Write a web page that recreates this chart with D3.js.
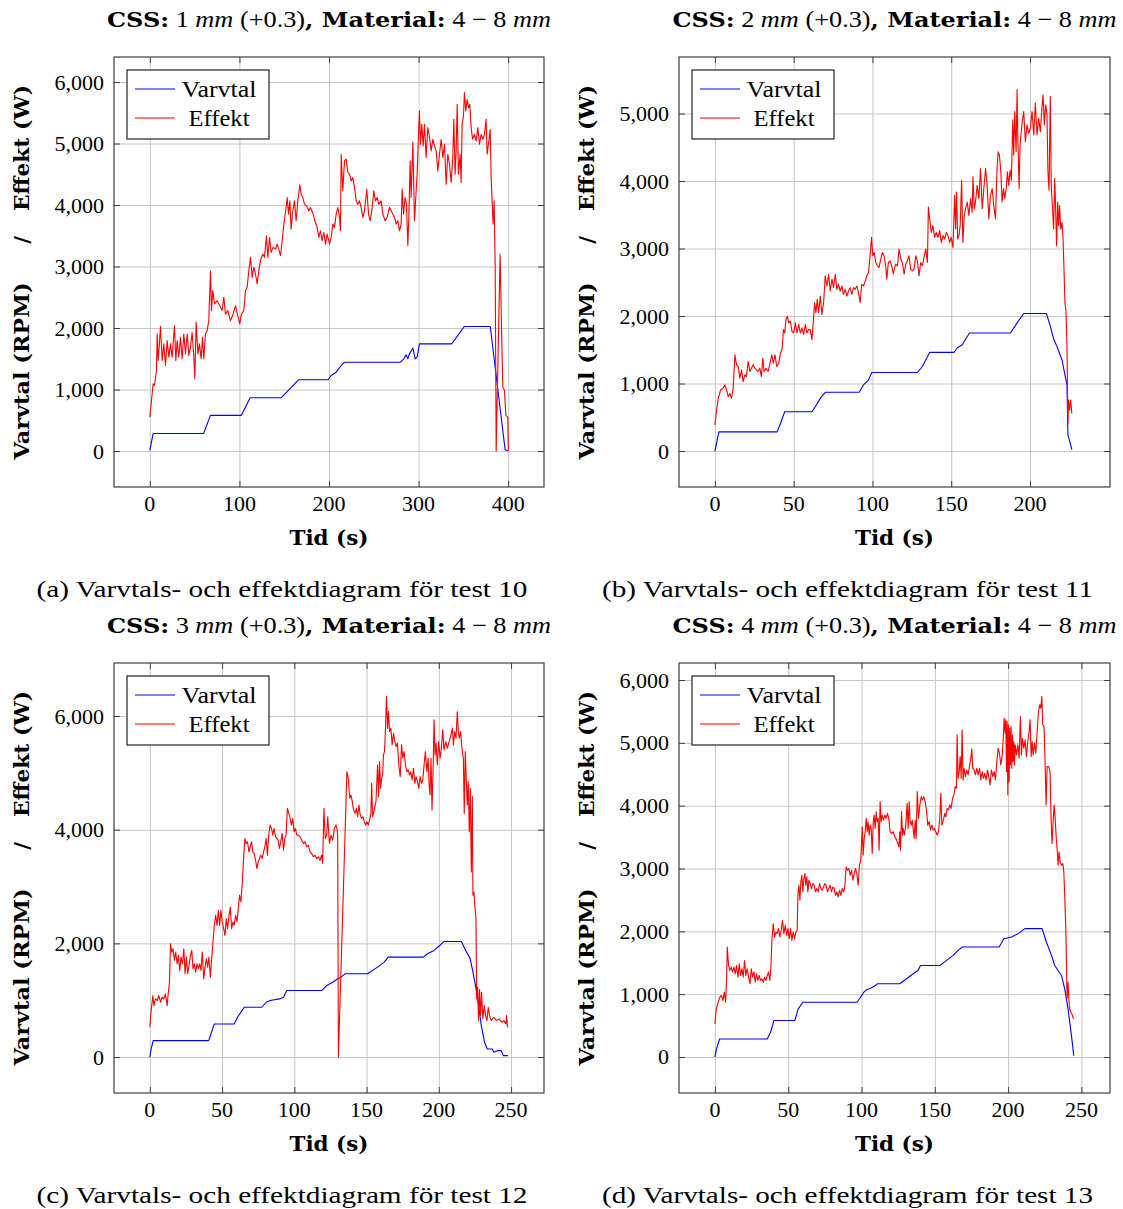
<!DOCTYPE html>
<html>
<head>
<meta charset="utf-8">
<script src="https://cdn.jsdelivr.net/npm/d3@7"></script>
<style>
  body { margin: 0; background: #fff; }
  svg { display: block; }
  text { white-space: pre; }
</style>
</head>
<body>
<svg id="fig" width="1123" height="1209"></svg>
<script>
// ---- Test 10 (CSS 1 mm) : [time s, value] ----
const rpm10 = [[0,10],[3.7,285],[60,285],[67.7,579],[102,579],[112,866],[146.5,866],[166,1158],[199,1158],[202.4,1228],[208,1282],[213.6,1390],[217.3,1444],[279.8,1444],[283.5,1499],[286.1,1563],[288,1499],[289.8,1580],[293.6,1672],[296.2,1499],[298.4,1526],[301,1742],[337,1742],[351,2024],[380,2024],[396.6,20],[400,0]];
const eff10 = [[0,552],[1.5,768],[3.7,1093],[5.2,1066],[7.4,1309],[8.2,1904],[9.3,1471],[10.4,1688],[11.9,2023],[13.8,1471],[15.6,1742],[17.5,1390],[19.3,1796],[21.2,1526],[23.1,1742],[24.9,1526],[27.5,2040],[29,1471],[30.5,1796],[32.4,1526],[34.2,1850],[36.1,1499],[37.9,1904],[39.8,1580],[41.7,1904],[43.5,1553],[45.4,1688],[47.2,1931],[49.1,1526],[50.2,1174],[51.7,2094],[53.6,1580],[55.4,1742],[57.3,1499],[58.8,1850],[60.3,1499],[62.1,1904],[64,1958],[65.8,2121],[67.7,2932],[68.8,2283],[70.3,2608],[72.2,2391],[75.1,2445],[78.1,2364],[80.7,2283],[82.6,2499],[84.4,2229],[87.1,2283],[90,2121],[93,2229],[95.6,2364],[98.2,2202],[100.4,2067],[102.3,2229],[104.9,2283],[106.8,2608],[108.6,2662],[110.5,2932],[112.4,3149],[114.2,2824],[116.1,2986],[118,2878],[119.8,2716],[121.7,2932],[123.5,3095],[126.1,3203],[128,3149],[130.2,3500],[131.7,3149],[133.6,3473],[135.4,3230],[137.6,3311],[140.3,3284],[142.1,3365],[144,3284],[145.8,3176],[147.7,3419],[149.6,3690],[151.4,3879],[153.3,4122],[154.8,3852],[156.3,4068],[157.7,3608],[159.6,3906],[161.5,4068],[163.3,3744],[165.2,4068],[167.4,4328],[168.9,4177],[170.8,4122],[172.6,4014],[174.9,3987],[177.5,3906],[179.3,3960],[182.3,3852],[184.2,3744],[186.8,3636],[188.6,3473],[190.5,3582],[192.3,3419],[194.2,3554],[196.1,3365],[197.9,3527],[199.8,3419],[200.6,3365],[202.4,3473],[204.3,3690],[206.1,3636],[208,3852],[209.9,3960],[211.7,3798],[212.8,3581],[213.6,4826],[215.4,4231],[217.3,4718],[219.2,4745],[221,4528],[222.9,4501],[224.7,4393],[226.6,4447],[228.5,4285],[230.3,4068],[232.2,4014],[234,4068],[235.9,3960],[237.8,3798],[239.6,3906],[242.2,4258],[244.1,3852],[246,3744],[247.8,3906],[250,4231],[251.9,4068],[253.8,4122],[255.6,4014],[258.2,4068],[260.1,3852],[262.7,3744],[264.9,3798],[267.5,3960],[269.4,3906],[271.2,3852],[273.1,3798],[275,3690],[276.8,3744],[278.7,3581],[280.5,3690],[281.7,4258],[283.2,3852],[285,4122],[286.5,4014],[288,3338],[289.1,3798],[290.6,4718],[291.7,4122],[293.6,5026],[295.4,3744],[297.3,4231],[298.4,4501],[299.9,5150],[301,5529],[302.1,4988],[303.6,5312],[305.1,4961],[306.6,5312],[308.4,4772],[310.3,5258],[312.2,5096],[314,4880],[315.9,5069],[317.8,4961],[319.6,4880],[321.5,4555],[323.3,4826],[325.2,5069],[327.1,4772],[328.9,4988],[330.8,4339],[332.6,4826],[334.5,4663],[336.4,4366],[338.2,4772],[339.3,5394],[340.8,4501],[341.9,4880],[343.1,5637],[344.5,4501],[346.4,4826],[347.5,4366],[348.6,5312],[350.1,5448],[351.2,5827],[352.7,5529],[354.2,5718],[355.7,5583],[357.2,5637],[358.7,5258],[360.2,5069],[362.4,5150],[364.3,5042],[366.1,5258],[368,4988],[369.8,5150],[371.7,5069],[373.5,5150],[375.4,5394],[376.5,4826],[378,4988],[379.9,5231],[381,4447],[382.1,4068],[383.2,3690],[384.3,4068],[385.5,3040],[386.6,0],[391,3203],[392.5,2067],[394,1039],[395.9,985],[397.4,579],[399.6,552],[400.2,0]];

// ---- Test 11 (CSS 2 mm) ----
const rpm11 = [[0,0],[1,109],[2.5,283],[39.5,283],[41.6,407],[44.3,581],[61.6,581],[63.7,656],[66.9,780],[70,870],[91.6,870],[94.3,979],[97.5,1054],[99.6,1163],[128.5,1163],[131.7,1252],[136.3,1461],[151.7,1461],[153.8,1526],[157,1575],[161.6,1749],[187.6,1749],[191.8,1898],[196,2038],[210.4,2038],[212.9,1849],[215,1660],[217.1,1551],[220.3,1352],[222.4,1103],[223.5,979],[224.1,234],[225.6,109],[226.6,20]];
const eff11 = [[0,383],[0.8,557],[2.1,780],[3.6,905],[5.1,929],[6.3,979],[7.4,905],[8.4,805],[9.5,855],[10.5,780],[11.6,929],[12.7,1426],[13.7,1277],[14.8,1252],[15.8,1078],[16.9,1203],[17.9,1029],[19,1128],[20,1103],[21.1,1327],[22.2,1178],[23.2,1227],[24.3,1277],[25.3,1227],[26.4,1203],[27.4,1178],[28.5,1227],[29.5,1103],[30.4,1377],[31.2,1178],[32.5,1227],[33.8,1178],[35,1302],[36.1,1426],[37.1,1302],[38.2,1426],[39.2,1252],[40.5,1302],[41.6,1451],[42.6,1501],[43.5,1799],[44.3,1749],[45.1,1948],[46,1998],[46.8,1898],[47.9,1923],[48.9,1774],[50,1749],[51.1,1898],[52.1,1749],[53.2,1874],[54.2,1749],[55.3,1824],[56.3,1724],[57.4,1874],[58.4,1749],[59.5,1799],[60.5,1799],[61.6,1650],[62.4,1898],[63.3,2197],[64.1,2048],[65,2246],[65.8,2048],[66.9,2296],[67.9,2023],[69,2197],[70,2594],[71.1,2445],[72.2,2619],[73.2,2370],[74.3,2545],[75.3,2420],[76.4,2619],[77.4,2395],[78.5,2470],[79.5,2370],[80.6,2445],[81.6,2321],[82.7,2395],[83.8,2296],[84.8,2370],[85.9,2420],[86.9,2321],[88,2420],[89,2395],[90.1,2445],[91.1,2346],[92.2,2197],[93.2,2470],[94.3,2445],[95.4,2520],[96.4,2594],[97.5,2644],[98.5,2893],[99.4,3166],[100.2,2893],[101.1,2942],[102.1,2793],[103.2,2743],[104.2,2719],[105.3,2843],[106.3,2942],[107.4,2893],[108.4,2743],[109.1,2545],[110.1,2793],[111.2,2818],[112.2,2743],[113.3,2619],[113.8,2694],[114.8,2768],[115.9,2743],[116.9,2992],[118,2843],[119,2793],[120.1,2619],[121.1,2768],[122.2,2818],[123.2,2893],[124.3,2694],[125.4,2669],[126.4,2694],[127.5,2893],[128.5,2818],[129.6,2594],[130.6,2793],[131.7,2743],[132.7,2868],[133.8,2992],[134.9,2793],[135.5,3613],[136.3,3439],[137.4,3240],[138.4,3340],[139.5,3166],[140.5,3240],[141.6,3166],[142.7,3265],[143.7,3091],[144.8,3191],[145.8,3141],[146.9,3240],[147.9,3191],[149,3091],[150,3166],[151.1,3017],[152.2,3787],[152.8,3290],[153.4,3837],[154.1,3141],[154.9,3191],[155.7,3340],[156.6,4011],[157.4,3091],[158.3,3489],[159.1,3588],[160.2,3688],[161.2,3489],[162.3,3738],[163.3,3539],[163.8,4061],[164.6,3588],[165.4,3688],[166.5,3936],[167.6,3738],[168.6,4185],[169.7,3588],[170.7,3887],[171.8,4185],[172.8,3936],[173.9,3439],[174.9,3787],[176,3887],[177,3638],[178.1,3439],[179,4135],[179.8,4433],[180.6,4384],[181.5,4135],[182.3,3688],[183.2,3887],[184,3738],[184.9,3887],[185.7,4135],[186.5,3936],[187.4,4160],[188.2,4011],[189.1,4906],[189.7,4384],[190.3,5030],[191.2,4433],[191.8,5353],[192.4,4533],[193.1,3887],[193.7,4533],[194.3,4682],[195,4856],[196,5030],[197.1,4582],[198.1,4831],[199.2,4707],[200.3,4781],[201.3,5030],[202.4,4682],[203.4,5154],[204.5,4682],[205.5,4930],[206.6,4731],[207.6,5079],[208.3,5278],[209.1,4831],[210,5129],[210.8,4980],[211.4,4135],[212.1,3862],[212.9,5253],[213.5,3936],[214.2,3638],[215,3290],[215.7,4036],[216.3,3589],[216.9,3042],[217.6,3688],[218.2,3340],[218.8,3638],[219.5,3290],[220.3,3390],[221,3141],[221.6,2694],[222.2,2197],[222.8,2097],[223.5,1551],[224.1,408],[224.5,756],[225.2,606],[225.8,756],[226.6,557]];

// ---- Test 12 (CSS 3 mm) ----
const rpm12 = [[0,0],[0.9,141],[2.3,288],[40.7,288],[42.3,406],[44.6,582],[58.4,582],[60.7,700],[65.3,876],[77.5,876],[80.5,964],[83.3,994],[89.7,1023],[92.5,1053],[94.8,1170],[118.9,1170],[122.4,1258],[126.6,1317],[130,1376],[132.3,1405],[135.1,1464],[150.7,1464],[157.6,1582],[162.2,1670],[165,1758],[189.4,1758],[192.1,1817],[196.7,1876],[201.3,1976],[203.6,2034],[215.6,2034],[218.6,1876],[221.6,1740],[223.9,1464],[226.6,1082],[229.4,553],[231.7,259],[233.5,141],[237,141],[238.1,82],[240.4,112],[243.2,112],[244.6,24],[247.8,24]];
const eff12 = [[0,523],[0.9,817],[2.1,1082],[2.8,905],[3.9,1023],[5.1,994],[6.2,1082],[7.4,964],[8.5,1052],[9.7,1023],[10.8,1111],[12,905],[12.7,1111],[13.6,1317],[14.3,1993],[15.2,1846],[16.1,1905],[17,1699],[17.9,1846],[18.9,1640],[19.8,1788],[20.7,1523],[21.6,1758],[22.6,1640],[23.5,1905],[24.4,1464],[25.3,1758],[26.2,1464],[27.1,1611],[28.1,1788],[29,1876],[29.9,1552],[30.8,1640],[31.7,1494],[32.7,1640],[33.6,1552],[34.5,1640],[35.4,1523],[36.3,1846],[37.3,1376],[38.2,1582],[39.1,1729],[40,1582],[40.9,1758],[41.9,1405],[42.8,1729],[43.7,2023],[44.6,2317],[45.6,2493],[46.5,2317],[47.4,2581],[48.3,2317],[49.2,2581],[50.1,2376],[51.1,2258],[52,2140],[52.9,2434],[53.8,2258],[54.8,2493],[55.7,2640],[56.6,2258],[57.5,2376],[58.4,2317],[59.4,2493],[60.3,2376],[61.2,2611],[62.1,2846],[63,2728],[64,3081],[64.9,3493],[65.8,3846],[66.7,3757],[67.6,3787],[68.6,3610],[69.5,3698],[70.4,3787],[71.3,3610],[72.2,3581],[73.2,3463],[74.1,3316],[75,3434],[75.9,3493],[76.8,3552],[77.8,3493],[78.7,3610],[79.6,3698],[80.5,3846],[81.4,3552],[82.4,3934],[83.3,4081],[84.2,4022],[85.1,3904],[86,4022],[87,3875],[87.9,3846],[88.8,3816],[89.7,3669],[90.6,3787],[91.6,3934],[92.5,3640],[93.4,3846],[94.3,3904],[95.2,4375],[96.2,4287],[97.1,4199],[98,4081],[98.9,4199],[99.8,3963],[100.8,4022],[101.7,3904],[102.8,3904],[104,3875],[105.1,3816],[106.3,3757],[107.4,3787],[108.6,3698],[109.7,3728],[110.9,3610],[112,3581],[113.2,3522],[114.3,3552],[115.5,3493],[116.6,3522],[117.8,3463],[118.9,3552],[119.6,3405],[120.5,4375],[121.4,3846],[122.4,3904],[123.1,4228],[124.3,3757],[125.4,3904],[126.6,3816],[127.7,4022],[128.9,4081],[129.5,4022],[130,3904],[130.5,0],[136.4,5022],[137.4,4904],[138.3,4552],[139.2,4611],[140.1,4493],[141,4345],[142,4287],[142.9,4375],[143.8,4228],[144.7,4434],[145.6,4257],[146.6,4199],[147.5,4228],[148.4,4140],[149.3,4081],[150.2,4140],[151.2,4081],[152.1,4169],[153,4287],[153.5,4816],[154.2,4228],[155.3,4345],[156.5,4493],[157.6,5139],[158.3,4581],[159,5198],[159.7,4728],[160.4,4904],[161.1,4963],[161.7,5316],[162.4,5375],[163.1,5786],[163.8,6345],[164.5,5786],[165.2,6080],[165.9,5727],[166.8,5786],[167.7,5492],[168.6,5698],[169.6,5551],[170.5,5463],[171.4,5522],[172.3,5139],[173.3,4933],[174.2,5492],[175.1,5257],[176,5375],[176.9,5139],[177.9,5022],[178.8,5051],[179.7,4963],[180.6,5022],[181.5,4875],[182.5,5081],[183.4,4816],[184.3,4933],[185.2,4845],[186.1,4728],[187.1,4933],[188,4816],[188.9,4875],[189.8,5139],[190.7,5375],[191.7,5022],[192.6,5257],[193.3,4787],[193.9,4610],[194.6,5257],[195.3,4345],[196,5022],[196.7,5933],[197.4,5316],[198.1,5522],[199,5139],[199.9,5551],[200.9,5257],[201.8,5433],[202.7,5757],[203.6,5404],[204.8,5551],[205.9,5433],[207.1,5551],[208.2,5639],[209.4,5786],[210.1,5492],[211,5727],[211.9,5610],[212.8,6080],[213.5,5727],[214.2,5610],[215.1,5727],[216,5433],[217,5257],[217.6,4287],[218.3,5375],[219,4904],[219.7,4434],[220.4,4845],[221.1,3963],[221.8,4728],[222.5,3258],[223.2,4581],[223.6,2846],[224.3,2905],[225,2640],[225.7,2434],[226.2,1023],[226.9,1229],[227.5,641],[228.2,1188],[228.9,729],[229.6,1141],[230.5,670],[231.5,906],[232.4,729],[233.3,641],[234.2,876],[235.1,729],[236.3,641],[238.1,700],[240,641],[241.8,670],[243.6,611],[245,641],[246.4,582],[246.9,729],[247.4,553],[247.8,523]];

// ---- Test 13 (CSS 4 mm) ----
const rpm13 = [[0,0],[1.1,128],[3.2,287],[35.7,287],[38,394],[40.2,580],[54.5,580],[56.8,766],[60,872],[97,872],[99.3,952],[101.6,1032],[103.9,1074],[106.1,1096],[109.5,1138],[110.7,1165],[126.1,1165],[130.7,1245],[135.2,1324],[138.6,1378],[140.2,1457],[153.4,1457],[158,1537],[162.5,1617],[165.9,1697],[168.9,1750],[193.9,1750],[197.1,1883],[202.3,1910],[206.8,1963],[211.4,2043],[223.2,2043],[226.1,1830],[229.6,1617],[231.8,1457],[236.4,1298],[238.6,1085],[240.9,766],[243.2,340],[244.8,21]];
const eff13 = [[0,527],[0.9,766],[2.3,872],[3.4,952],[4.5,979],[5.5,899],[6.4,1032],[7.3,872],[8,1271],[8.4,1750],[9.3,1457],[10.2,1378],[11.1,1431],[12,1351],[13,1431],[13.9,1324],[14.8,1457],[15.7,1271],[16.6,1484],[17.5,1298],[18.4,1404],[19.3,1271],[20.2,1537],[21.1,1298],[22,1404],[23,1271],[23.9,1165],[24.8,1404],[25.7,1271],[26.6,1351],[27.5,1191],[28.4,1324],[29.3,1218],[30.2,1298],[31.1,1218],[32,1245],[33,1191],[33.9,1271],[34.8,1218],[35.7,1298],[36.6,1351],[37.5,1218],[38.2,1431],[38.9,1883],[39.8,2122],[40.7,1910],[41.6,1989],[42.5,1963],[43.4,2043],[44.3,1910],[45.2,2016],[46.1,2176],[47,1963],[48,2096],[48.9,1936],[49.8,2043],[50.7,1883],[51.6,2043],[52.5,1856],[53.4,1989],[54.3,1883],[55.2,1989],[56.1,2016],[56.6,2574],[57.3,2734],[58,2495],[58.6,2787],[59.3,2894],[60,2628],[60.7,2840],[61.4,2920],[62,2734],[62.7,2867],[63.4,2628],[64.1,2814],[65,2761],[65.9,2681],[66.8,2761],[67.7,2734],[68.6,2628],[69.5,2681],[70.5,2628],[71.4,2761],[72.3,2681],[73.2,2654],[74.1,2707],[75,2761],[75.9,2734],[76.8,2628],[77.7,2681],[78.6,2734],[79.5,2628],[80.5,2707],[81.4,2681],[82.3,2574],[83.2,2628],[84.1,2548],[85,2654],[85.9,2574],[86.8,2681],[87.7,2628],[88.6,2707],[89.5,3026],[90.5,2973],[91.4,3000],[92.3,2894],[93.2,2973],[94.1,2814],[95,2920],[95.9,3000],[96.8,2920],[97.7,2734],[98.6,3053],[99.5,3133],[100.5,3665],[101.1,3213],[101.8,3479],[102.5,3585],[103.2,3798],[103.9,3585],[104.5,3745],[105.2,3532],[105.9,3691],[106.6,3638],[107.3,3239],[108,3745],[108.6,3851],[109.3,3638],[110,3904],[110.7,3745],[111.4,3798],[112,3292],[112.7,4064],[113.4,3745],[114.1,3851],[115,3771],[115.9,3851],[116.8,3798],[117.7,3878],[118.6,3798],[119.5,3585],[120.5,3558],[121.6,3585],[122.7,3505],[123.9,3452],[124.8,3399],[125.5,3346],[126.1,3585],[126.6,3292],[127.3,3904],[128,3532],[128.4,3638],[129.3,3532],[130.2,3691],[131.1,4037],[131.8,3638],[132.5,4064],[133.2,3745],[133.9,3691],[134.6,3771],[135.2,3638],[135.9,3479],[136.6,3771],[137.3,3479],[138,4224],[138.9,3798],[139.8,4011],[140.7,4144],[141.6,4091],[142.5,4144],[143.4,4064],[144.3,3931],[145.2,3691],[146.1,3745],[147.1,3612],[148,3691],[148.9,3612],[149.8,3638],[150.7,3585],[151.6,3532],[152.5,3585],[153.4,3798],[154.1,4197],[154.8,3691],[155.5,3745],[156.1,3798],[156.8,3878],[157.5,3824],[158.4,3957],[159.3,3931],[160.2,4011],[161.1,3957],[162.1,4117],[163,4170],[163.9,4303],[164.8,4277],[165.2,5128],[165.9,4436],[166.6,4542],[167.3,4782],[168,4436],[168.6,5208],[169.3,4410],[170,4595],[170.9,4463],[171.8,4569],[172.7,4489],[173.6,4622],[174.6,4755],[175.2,4904],[175.9,4595],[176.8,4569],[177.7,4489],[178.6,4595],[179.6,4489],[180.5,4595],[181.4,4410],[182.3,4542],[183.2,4436],[184.1,4516],[185,4410],[185.9,4569],[186.8,4463],[187.7,4330],[188.6,4569],[189.6,4463],[190.5,4542],[191.4,4410],[192.3,4702],[193.2,4915],[194.1,4835],[195,4649],[195.9,4782],[196.6,5021],[197.3,5394],[198,5154],[198.4,5367],[198.9,4542],[199.3,5341],[199.8,4170],[200.2,5288],[200.7,4383],[201.1,5234],[201.6,4649],[202,5261],[202.5,4595],[203,5128],[203.4,4702],[203.9,5021],[204.3,4649],[204.8,4968],[205.7,4808],[206.6,4968],[207.5,4755],[208.4,5420],[209.1,4808],[209.8,5074],[210.7,4915],[211.6,5048],[212.5,4782],[213.4,5021],[214.3,5181],[215,5367],[215.7,4782],[216.4,5021],[217.1,4808],[218,4995],[218.9,4835],[219.8,5181],[220.7,5500],[221.6,5606],[222.3,5553],[223,5739],[223.6,5288],[224.5,5261],[225.2,4702],[225.9,4011],[226.6,4622],[227.7,4622],[228.6,4542],[229.3,3798],[230,3399],[230.7,3745],[231.4,4011],[232.1,3798],[232.7,3532],[233.4,3319],[234.1,3053],[234.8,3266],[235.5,3106],[236.4,3053],[237.3,3080],[238,2947],[238.6,2574],[239.3,2096],[239.8,1511],[240.2,926],[240.9,1191],[241.4,926],[242,766],[242.9,713],[243.9,660],[244.6,606]];

// ---- ticks, titles, captions ----
const xTicks10 = [0, 100, 200, 300, 400];
const xTicks11 = [0, 50, 100, 150, 200];
const xTicks12 = [0, 50, 100, 150, 200, 250];
const xTicks13 = [0, 50, 100, 150, 200, 250];
const yTicks10 = [0, 1000, 2000, 3000, 4000, 5000, 6000];
const yTicks11 = [0, 1000, 2000, 3000, 4000, 5000];
const yTicks12 = [0, 2000, 4000, 6000];
const yTicks13 = [0, 1000, 2000, 3000, 4000, 5000, 6000];
const cssSizes = [1, 2, 3, 4];
const testNumbers = [10, 11, 12, 13];
const subLetters = ["a", "b", "c", "d"];
const seriesNames = ["Varvtal", "Effekt"];

const panels = [
  { left: 114, top: 57,  w: 430, h: 430, xDom: [-40, 440],    yDom: [-585, 6407], xTicks: xTicks10, yTicks: yTicks10, rpm: rpm10, eff: eff10 },
  { left: 679, top: 57,  w: 431, h: 430, xDom: [-22.8, 250.8], yDom: [-533, 5837], xTicks: xTicks11, yTicks: yTicks11, rpm: rpm11, eff: eff11 },
  { left: 114, top: 663, w: 430, h: 430, xDom: [-24.8, 272.8], yDom: [-633, 6933], xTicks: xTicks12, yTicks: yTicks12, rpm: rpm12, eff: eff12 },
  { left: 679, top: 663, w: 431, h: 430, xDom: [-24.5, 269.5], yDom: [-573, 6271], xTicks: xTicks13, yTicks: yTicks13, rpm: rpm13, eff: eff13 }
];

const svg = d3.select("#fig");
const serif = "'Liberation Serif', 'Times New Roman', serif";
const boldSerif = "'DejaVu Serif', serif";
const fmtY = d3.format(",");
const gridColor = "#c6c6c6";
const frameColor = "#404040";

panels.forEach((p, i) => {
  const g = svg.append("g").attr("transform", `translate(${p.left},${p.top})`);
  const x = d3.scaleLinear().domain(p.xDom).range([0, p.w]);
  const y = d3.scaleLinear().domain(p.yDom).range([p.h, 0]);

  // grid lines
  g.append("g").attr("transform", `translate(0,${p.h})`)
    .call(d3.axisBottom(x).tickValues(p.xTicks).tickSize(-p.h).tickFormat(""))
    .call(a => a.select(".domain").remove())
    .call(a => a.selectAll("line").attr("stroke", gridColor).attr("stroke-width", 1));
  g.append("g")
    .call(d3.axisLeft(y).tickValues(p.yTicks).tickSize(-p.w).tickFormat(""))
    .call(a => a.select(".domain").remove())
    .call(a => a.selectAll("line").attr("stroke", gridColor).attr("stroke-width", 1));

  // data lines
  const clipId = "clip" + i;
  g.append("clipPath").attr("id", clipId).append("rect").attr("width", p.w).attr("height", p.h);
  const line = d3.line().x(d => x(d[0])).y(d => y(d[1]));
  const plot = g.append("g").attr("clip-path", `url(#${clipId})`);
  plot.append("path").datum(p.rpm).attr("d", line).attr("fill", "none")
    .attr("stroke", "#0000ff").attr("stroke-width", 1.1).attr("stroke-linejoin", "round");
  plot.append("path").datum(p.eff).attr("d", line).attr("fill", "none")
    .attr("stroke", "#ff0000").attr("stroke-width", 1.1).attr("stroke-linejoin", "round");

  // inward tick marks on all four sides
  const tickLen = 6;
  const styleTicks = a => { a.select(".domain").remove(); a.selectAll("line").attr("stroke", frameColor); };
  g.append("g").attr("transform", `translate(0,${p.h})`)
    .call(d3.axisBottom(x).tickValues(p.xTicks).tickSize(-tickLen).tickFormat("")).call(styleTicks);
  g.append("g")
    .call(d3.axisTop(x).tickValues(p.xTicks).tickSize(-tickLen).tickFormat("")).call(styleTicks);
  g.append("g")
    .call(d3.axisLeft(y).tickValues(p.yTicks).tickSize(-tickLen).tickFormat("")).call(styleTicks);
  g.append("g").attr("transform", `translate(${p.w},0)`)
    .call(d3.axisRight(y).tickValues(p.yTicks).tickSize(-tickLen).tickFormat("")).call(styleTicks);

  // tick labels
  g.append("g").selectAll("text").data(p.xTicks).join("text")
    .attr("x", d => x(d)).attr("y", p.h + 24)
    .attr("text-anchor", "middle").attr("font-family", serif).attr("font-size", 22)
    .text(d => d);
  g.append("g").selectAll("text").data(p.yTicks).join("text")
    .attr("x", -10).attr("y", d => y(d) + 7.5)
    .attr("text-anchor", "end").attr("font-family", serif).attr("font-size", 22)
    .text(d => fmtY(d));

  // frame
  g.append("rect").attr("width", p.w).attr("height", p.h)
    .attr("fill", "none").attr("stroke", frameColor).attr("stroke-width", 1.2);

  // legend
  const lg = g.append("g").attr("transform", "translate(13,13)");
  lg.append("rect").attr("width", 142).attr("height", 69)
    .attr("fill", "#fff").attr("stroke", "#222").attr("stroke-width", 1.2);
  [["#0000ff", 19, 75], ["#ff0000", 48, 61]].forEach(([c, yy, len], k) => {
    lg.append("line").attr("x1", 8).attr("x2", 48).attr("y1", yy).attr("y2", yy)
      .attr("stroke", c).attr("stroke-width", 1.1);
    lg.append("text").attr("x", 92).attr("y", yy + 7.5).attr("text-anchor", "middle")
      .attr("font-family", serif).attr("font-size", 23)
      .attr("textLength", len).attr("lengthAdjust", "spacingAndGlyphs")
      .text(seriesNames[k]);
  });

  // axis labels
  g.append("text").attr("x", p.w / 2).attr("y", p.h + 58).attr("text-anchor", "middle")
    .attr("font-family", boldSerif).attr("font-weight", "bold").attr("font-size", 21)
    .attr("textLength", 79).attr("lengthAdjust", "spacingAndGlyphs")
    .text("Tid (s)");
  const yLabelParts = [["Varvtal (RPM)", 314, 177], ["/", 183, null], ["Effekt (W)", 91, 126]];
  yLabelParts.forEach(([txt, cy, len]) => {
    const el = g.append("text")
      .attr("transform", `translate(-85,${cy}) rotate(-90)`)
      .attr("text-anchor", "middle").attr("font-family", boldSerif)
      .attr("font-weight", "bold").attr("font-size", 21).text(txt);
    if (len) el.attr("textLength", len).attr("lengthAdjust", "spacingAndGlyphs");
  });

  // title
  const t = g.append("text").attr("x", p.w / 2).attr("y", -30).attr("text-anchor", "middle")
    .attr("font-family", serif).attr("font-size", 23)
    .attr("textLength", 444).attr("lengthAdjust", "spacingAndGlyphs");
  t.append("tspan").attr("font-family", boldSerif).attr("font-weight", "bold").attr("font-size", 21).text("CSS:");
  t.append("tspan").text(` ${cssSizes[i]} `);
  t.append("tspan").attr("font-style", "italic").text("mm");
  t.append("tspan").text(" (+0.3)");
  t.append("tspan").attr("font-family", boldSerif).attr("font-weight", "bold").attr("font-size", 21).text(", Material:");
  t.append("tspan").text(" 4 \u2212 8 ");
  t.append("tspan").attr("font-style", "italic").text("mm");

  // caption
  g.append("text").attr("x", p.w / 2 - 47).attr("y", p.h + 110).attr("text-anchor", "middle")
    .attr("font-family", serif).attr("font-size", 24)
    .attr("textLength", 491).attr("lengthAdjust", "spacingAndGlyphs")
    .text(`(${subLetters[i]}) Varvtals- och effektdiagram för test ${testNumbers[i]}`);
});
</script>
</body>
</html>
